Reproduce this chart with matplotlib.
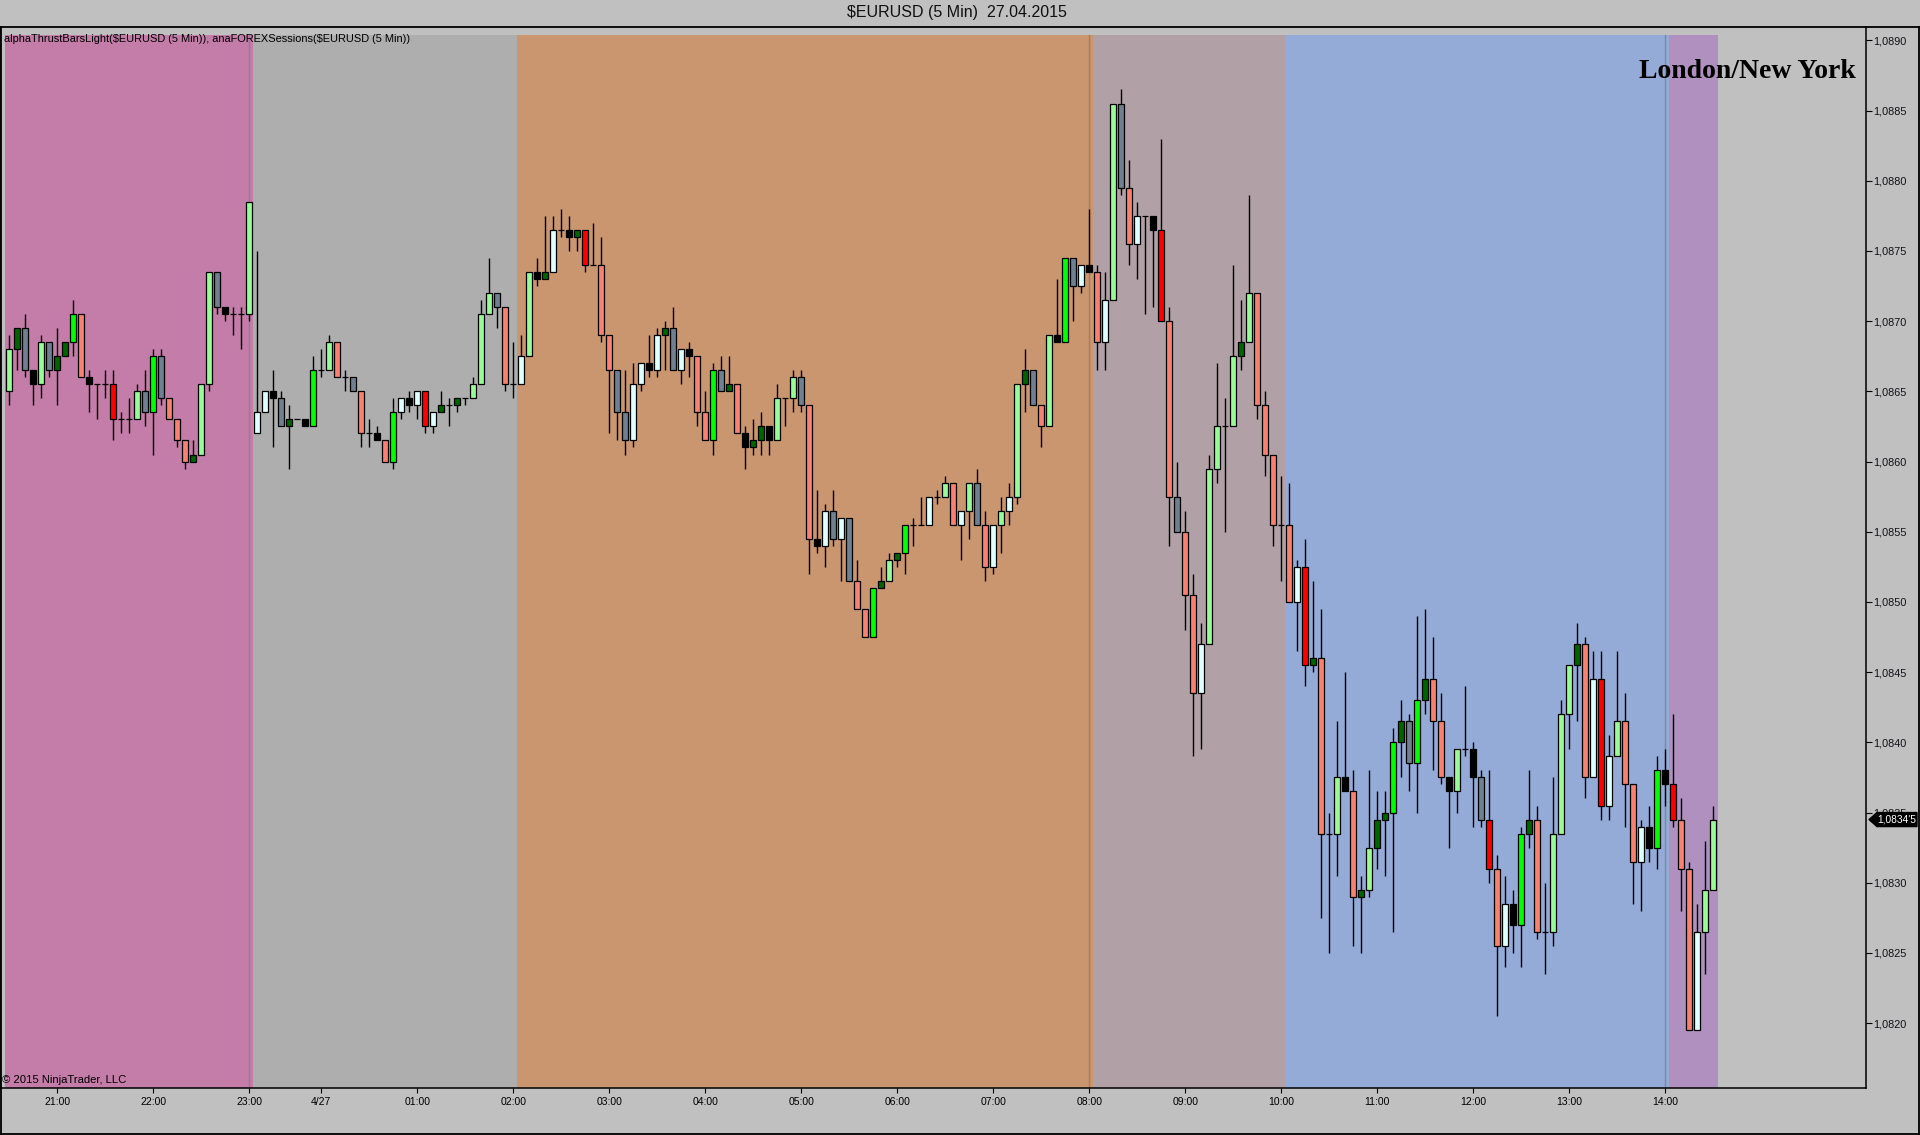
import numpy as np
import matplotlib
matplotlib.use("Agg")
import matplotlib.pyplot as plt
import matplotlib.patches as mpatches
import matplotlib.transforms as mtransforms
from matplotlib.lines import Line2D

# 5 min EURUSD bars, 20:30 (26.04) .. 14:30 (27.04)
opens = [
 1.08650, 1.08680, 1.08695, 1.08665, 1.08655, 1.08685, 1.08665, 1.08675, 1.08685, 1.08705,
 1.08660, 1.08655, 1.08655, 1.08655, 1.08630, 1.08630, 1.08630, 1.08650, 1.08635, 1.08675,
 1.08645, 1.08630, 1.08615, 1.08600, 1.08605, 1.08655, 1.08735, 1.08710, 1.08705, 1.08705,
 1.08705, 1.08620, 1.08635, 1.08650, 1.08645, 1.08625, 1.08630, 1.08630, 1.08625, 1.08665,
 1.08665, 1.08685, 1.08660, 1.08660, 1.08650, 1.08620, 1.08620, 1.08615, 1.08600, 1.08635,
 1.08645, 1.08640, 1.08650, 1.08625, 1.08635, 1.08640, 1.08640, 1.08645, 1.08645, 1.08655,
 1.08705, 1.08720, 1.08710, 1.08655, 1.08655, 1.08675, 1.08735, 1.08730, 1.08735, 1.08765,
 1.08765, 1.08760, 1.08765, 1.08740, 1.08740, 1.08690, 1.08665, 1.08635, 1.08615, 1.08655,
 1.08670, 1.08665, 1.08690, 1.08695, 1.08665, 1.08680, 1.08675, 1.08635, 1.08615, 1.08665,
 1.08650, 1.08655, 1.08620, 1.08610, 1.08615, 1.08625, 1.08615, 1.08645, 1.08645, 1.08660,
 1.08640, 1.08545, 1.08540, 1.08565, 1.08545, 1.08560, 1.08515, 1.08495, 1.08475, 1.08510,
 1.08515, 1.08530, 1.08535, 1.08555, 1.08555, 1.08555, 1.08575, 1.08575, 1.08585, 1.08555,
 1.08565, 1.08585, 1.08555, 1.08525, 1.08555, 1.08565, 1.08575, 1.08655, 1.08665, 1.08640,
 1.08625, 1.08690, 1.08685, 1.08745, 1.08725, 1.08740, 1.08735, 1.08685, 1.08715, 1.08855,
 1.08795, 1.08755, 1.08775, 1.08775, 1.08765, 1.08700, 1.08575, 1.08550, 1.08505, 1.08435,
 1.08470, 1.08595, 1.08625, 1.08625, 1.08675, 1.08685, 1.08720, 1.08640, 1.08605, 1.08555,
 1.08555, 1.08500, 1.08525, 1.08455, 1.08460, 1.08335, 1.08335, 1.08375, 1.08365, 1.08290,
 1.08295, 1.08325, 1.08345, 1.08350, 1.08400, 1.08415, 1.08385, 1.08430, 1.08445, 1.08415,
 1.08375, 1.08365, 1.08395, 1.08395, 1.08375, 1.08345, 1.08310, 1.08255, 1.08285, 1.08270,
 1.08335, 1.08345, 1.08265, 1.08265, 1.08335, 1.08420, 1.08455, 1.08470, 1.08375, 1.08445,
 1.08355, 1.08390, 1.08415, 1.08370, 1.08315, 1.08340, 1.08325, 1.08380, 1.08370, 1.08345,
 1.08310, 1.08195, 1.08265, 1.08295]
highs = [
 1.08690, 1.08695, 1.08705, 1.08665, 1.08690, 1.08685, 1.08695, 1.08685, 1.08715, 1.08705,
 1.08665, 1.08655, 1.08665, 1.08665, 1.08635, 1.08645, 1.08655, 1.08665, 1.08680, 1.08680,
 1.08645, 1.08630, 1.08615, 1.08615, 1.08655, 1.08735, 1.08735, 1.08710, 1.08710, 1.08710,
 1.08785, 1.08750, 1.08650, 1.08665, 1.08650, 1.08640, 1.08630, 1.08630, 1.08675, 1.08680,
 1.08690, 1.08685, 1.08665, 1.08660, 1.08650, 1.08630, 1.08625, 1.08615, 1.08645, 1.08645,
 1.08650, 1.08650, 1.08650, 1.08635, 1.08650, 1.08645, 1.08645, 1.08645, 1.08660, 1.08715,
 1.08745, 1.08720, 1.08710, 1.08685, 1.08690, 1.08735, 1.08745, 1.08775, 1.08775, 1.08780,
 1.08775, 1.08765, 1.08765, 1.08770, 1.08760, 1.08690, 1.08665, 1.08665, 1.08670, 1.08670,
 1.08690, 1.08695, 1.08700, 1.08710, 1.08680, 1.08685, 1.08675, 1.08650, 1.08670, 1.08675,
 1.08675, 1.08655, 1.08625, 1.08630, 1.08635, 1.08625, 1.08655, 1.08645, 1.08665, 1.08665,
 1.08640, 1.08580, 1.08570, 1.08580, 1.08560, 1.08560, 1.08530, 1.08495, 1.08510, 1.08525,
 1.08535, 1.08535, 1.08555, 1.08560, 1.08575, 1.08575, 1.08580, 1.08590, 1.08585, 1.08565,
 1.08585, 1.08595, 1.08565, 1.08555, 1.08575, 1.08585, 1.08655, 1.08680, 1.08665, 1.08640,
 1.08690, 1.08730, 1.08745, 1.08745, 1.08740, 1.08780, 1.08740, 1.08735, 1.08855, 1.08865,
 1.08815, 1.08785, 1.08775, 1.08775, 1.08830, 1.08710, 1.08600, 1.08565, 1.08520, 1.08485,
 1.08605, 1.08670, 1.08645, 1.08740, 1.08715, 1.08790, 1.08720, 1.08650, 1.08605, 1.08590,
 1.08585, 1.08530, 1.08545, 1.08515, 1.08495, 1.08350, 1.08415, 1.08450, 1.08380, 1.08305,
 1.08380, 1.08365, 1.08365, 1.08410, 1.08430, 1.08420, 1.08490, 1.08495, 1.08475, 1.08435,
 1.08375, 1.08395, 1.08440, 1.08400, 1.08380, 1.08380, 1.08320, 1.08305, 1.08295, 1.08340,
 1.08380, 1.08355, 1.08300, 1.08375, 1.08430, 1.08455, 1.08485, 1.08475, 1.08465, 1.08465,
 1.08405, 1.08465, 1.08435, 1.08370, 1.08345, 1.08355, 1.08390, 1.08395, 1.08420, 1.08360,
 1.08315, 1.08285, 1.08330, 1.08355]
lows = [
 1.08640, 1.08665, 1.08660, 1.08640, 1.08645, 1.08660, 1.08640, 1.08675, 1.08675, 1.08660,
 1.08635, 1.08630, 1.08645, 1.08615, 1.08620, 1.08620, 1.08630, 1.08625, 1.08605, 1.08640,
 1.08630, 1.08610, 1.08595, 1.08600, 1.08605, 1.08650, 1.08705, 1.08700, 1.08690, 1.08680,
 1.08700, 1.08620, 1.08635, 1.08610, 1.08625, 1.08595, 1.08630, 1.08625, 1.08625, 1.08660,
 1.08665, 1.08660, 1.08650, 1.08650, 1.08610, 1.08610, 1.08615, 1.08600, 1.08595, 1.08630,
 1.08635, 1.08630, 1.08620, 1.08620, 1.08635, 1.08625, 1.08635, 1.08640, 1.08645, 1.08655,
 1.08705, 1.08695, 1.08650, 1.08645, 1.08655, 1.08675, 1.08725, 1.08730, 1.08735, 1.08760,
 1.08750, 1.08750, 1.08735, 1.08740, 1.08685, 1.08620, 1.08615, 1.08605, 1.08610, 1.08650,
 1.08660, 1.08660, 1.08665, 1.08665, 1.08655, 1.08660, 1.08625, 1.08615, 1.08605, 1.08650,
 1.08650, 1.08620, 1.08595, 1.08605, 1.08605, 1.08605, 1.08615, 1.08625, 1.08635, 1.08635,
 1.08520, 1.08535, 1.08525, 1.08540, 1.08515, 1.08515, 1.08495, 1.08475, 1.08475, 1.08510,
 1.08515, 1.08525, 1.08520, 1.08540, 1.08555, 1.08555, 1.08570, 1.08575, 1.08555, 1.08530,
 1.08545, 1.08555, 1.08515, 1.08520, 1.08535, 1.08555, 1.08570, 1.08635, 1.08640, 1.08610,
 1.08625, 1.08685, 1.08685, 1.08700, 1.08720, 1.08735, 1.08665, 1.08665, 1.08715, 1.08790,
 1.08740, 1.08730, 1.08705, 1.08710, 1.08700, 1.08540, 1.08550, 1.08480, 1.08390, 1.08395,
 1.08470, 1.08585, 1.08550, 1.08625, 1.08665, 1.08685, 1.08630, 1.08590, 1.08540, 1.08515,
 1.08500, 1.08465, 1.08440, 1.08450, 1.08275, 1.08250, 1.08305, 1.08365, 1.08255, 1.08250,
 1.08290, 1.08310, 1.08305, 1.08265, 1.08375, 1.08365, 1.08350, 1.08420, 1.08380, 1.08370,
 1.08325, 1.08350, 1.08390, 1.08340, 1.08340, 1.08300, 1.08205, 1.08240, 1.08250, 1.08240,
 1.08325, 1.08260, 1.08235, 1.08255, 1.08335, 1.08395, 1.08415, 1.08360, 1.08375, 1.08345,
 1.08345, 1.08390, 1.08340, 1.08285, 1.08280, 1.08315, 1.08310, 1.08355, 1.08340, 1.08280,
 1.08195, 1.08195, 1.08235, 1.08295]
closes = [
 1.08680, 1.08695, 1.08665, 1.08655, 1.08685, 1.08665, 1.08675, 1.08685, 1.08705, 1.08660,
 1.08655, 1.08655, 1.08655, 1.08630, 1.08630, 1.08630, 1.08650, 1.08635, 1.08675, 1.08645,
 1.08630, 1.08615, 1.08600, 1.08605, 1.08655, 1.08735, 1.08710, 1.08705, 1.08705, 1.08705,
 1.08785, 1.08635, 1.08650, 1.08645, 1.08625, 1.08630, 1.08630, 1.08625, 1.08665, 1.08665,
 1.08685, 1.08660, 1.08660, 1.08650, 1.08620, 1.08620, 1.08615, 1.08600, 1.08635, 1.08645,
 1.08640, 1.08650, 1.08625, 1.08635, 1.08640, 1.08640, 1.08645, 1.08645, 1.08655, 1.08705,
 1.08720, 1.08710, 1.08655, 1.08655, 1.08675, 1.08735, 1.08730, 1.08735, 1.08765, 1.08765,
 1.08760, 1.08765, 1.08740, 1.08740, 1.08690, 1.08665, 1.08635, 1.08615, 1.08655, 1.08670,
 1.08665, 1.08690, 1.08695, 1.08665, 1.08680, 1.08675, 1.08635, 1.08615, 1.08665, 1.08650,
 1.08655, 1.08620, 1.08610, 1.08615, 1.08625, 1.08615, 1.08645, 1.08645, 1.08660, 1.08640,
 1.08545, 1.08540, 1.08565, 1.08545, 1.08560, 1.08515, 1.08495, 1.08475, 1.08510, 1.08515,
 1.08530, 1.08535, 1.08555, 1.08555, 1.08555, 1.08575, 1.08575, 1.08585, 1.08555, 1.08565,
 1.08585, 1.08555, 1.08525, 1.08555, 1.08565, 1.08575, 1.08655, 1.08665, 1.08640, 1.08625,
 1.08690, 1.08685, 1.08745, 1.08725, 1.08740, 1.08735, 1.08685, 1.08715, 1.08855, 1.08795,
 1.08755, 1.08775, 1.08775, 1.08765, 1.08700, 1.08575, 1.08550, 1.08505, 1.08435, 1.08470,
 1.08595, 1.08625, 1.08625, 1.08675, 1.08685, 1.08720, 1.08640, 1.08605, 1.08555, 1.08555,
 1.08500, 1.08525, 1.08455, 1.08460, 1.08335, 1.08335, 1.08375, 1.08365, 1.08290, 1.08295,
 1.08325, 1.08345, 1.08350, 1.08400, 1.08415, 1.08385, 1.08430, 1.08445, 1.08415, 1.08375,
 1.08365, 1.08395, 1.08395, 1.08375, 1.08345, 1.08310, 1.08255, 1.08285, 1.08270, 1.08335,
 1.08345, 1.08265, 1.08265, 1.08335, 1.08420, 1.08455, 1.08470, 1.08375, 1.08445, 1.08355,
 1.08390, 1.08415, 1.08370, 1.08315, 1.08340, 1.08325, 1.08380, 1.08370, 1.08345, 1.08310,
 1.08195, 1.08265, 1.08295, 1.08345]
# alphaThrustBars state per bar
thrust = list("GDSKGSDDLA" "KKKRKKGSLS" "AAADGGSKKK" "GCCKSDKKLK" "GAKSAKKALC"
              "KCRCDKDKGG" "GSAKCGKDCK" "KDRKAASSCC" "KCDSCKAALS" "DAKDDKGKGS"
              "AKCSCSAALD" "GDLKKCKGAC" "GSACGCGDSA" "GKLSCKACGS" "ACKKRASAAC"
              "GGKGDGAAAK" "ACRDAKGKAD" "GDDLDSLDAA" "KGKKSRACKL" "DAKGGGDACR"
              "CGAACKLKRA" "ACGG")

# sessions: first bar index of each session
session_start = [0, 31, 64, 136, 160, 208]
session_end = 214
session_open_bars = [30, 135, 207]

tick_bars = [6, 18, 30, 39, 51, 63, 75, 87, 99, 111, 123, 135, 147, 159, 171, 183, 195, 207]
tick_labels = ["21:00", "22:00", "23:00", "4/27", "01:00", "02:00", "03:00", "04:00", "05:00",
               "06:00", "07:00", "08:00", "09:00", "10:00", "11:00", "12:00", "13:00", "14:00"]
price_ticks = [1.0820, 1.0825, 1.0830, 1.0835, 1.0840, 1.0845, 1.0850, 1.0855,
               1.0860, 1.0865, 1.0870, 1.0875, 1.0880, 1.0885, 1.0890]

thrust_colors = {'G': '#98FB98', 'L': '#00FF00', 'D': '#006400', 'S': '#708090',
                 'K': '#000000', 'C': '#E0FFFF', 'A': '#FA8072', 'R': '#FF0000'}
session_colors = ['#C47CA8', '#AEAEAE', '#C99670', '#B1A1A6', '#94ABD7', '#AF90BE']
open_line_colors = ['#9A7A8E', '#B07A50', '#7E8898']
bg = '#C0C0C0'
font = 'Liberation Sans'

W, H = 1920, 1135
fig = plt.figure(figsize=(W/100, H/100), dpi=100, facecolor=bg)
ax = fig.add_axes([0, 1-1088/H, 1866/W, (1088-27)/H])
ax.set_facecolor(bg)
ax.set_xlim(-1.1625, 232.09)
ax.set_ylim(1.081538, 1.089095)

# session backgrounds
edges = [s - 0.57 for s in session_start] + [session_end - 0.47]
for i, c in enumerate(session_colors):
    ax.axvspan(edges[i], edges[i+1], ymin=0, ymax=0.9925, color=c, lw=0, zorder=0)
for b, c in zip(session_open_bars, open_line_colors):
    ax.axvline(b, ymin=0, ymax=0.9925, color=c, lw=1.0, zorder=0.5)

# candles
x = np.arange(len(opens))
o = np.array(opens); h = np.array(highs); l = np.array(lows); c = np.array(closes)
ax.vlines(x, l, h, color='black', lw=1.0, zorder=2)
ax.bar(x, np.abs(c-o), bottom=np.minimum(o, c), width=0.78,
       color=[thrust_colors[t] for t in thrust], edgecolor='black', lw=0.9, zorder=3)

# axes styling
for s in ax.spines.values():
    s.set_linewidth(1.1)
ax.spines['top'].set_visible(False)
ax.yaxis.tick_right()
ax.set_yticks(price_ticks)
ax.set_yticklabels([("%.4f" % v).replace('.', ',') for v in price_ticks],
                   family=font, fontsize=7.8, color='#101018')
ax.tick_params(axis='y', direction='out', length=4.5, width=0.8, pad=1)
ax.set_xticks(tick_bars)
ax.set_xticklabels(tick_labels, family=font, fontsize=7.5)
ax.tick_params(axis='x', direction='out', length=3.8, width=0.8, pad=2.5)

ax.text(0.0019, 0.9887, r"alphaThrustBarsLight(\$EURUSD (5 Min)), anaFOREXSessions(\$EURUSD (5 Min))",
        transform=ax.transAxes, ha='left', va='center', family=font, fontsize=7.9)
ax.text(0.001, 0.003, "\u00a9 2015 NinjaTrader, LLC", transform=ax.transAxes,
        ha='left', va='bottom', family=font, fontsize=8.1)
ax.text(0.9946, 0.9578, "London/New York", transform=ax.transAxes, ha='right', va='center',
        family='Liberation Serif', fontweight='bold', fontsize=20)

# last price marker
tr = mtransforms.blended_transform_factory(fig.transFigure, ax.transData)
last = closes[-1]
hh = 0.00005
marker = mpatches.Polygon([(1869/W, last), (1877/W, last+hh), (1917/W, last+hh),
                           (1917/W, last-hh), (1877/W, last-hh)], closed=True,
                          transform=tr, facecolor='black', edgecolor='black', clip_on=False, zorder=5)
fig.add_artist(marker)
fig.text(1897/W, last, ("%.5f" % last).replace('.', ',')[:-1] + "'" + ("%.5f" % last)[-1],
         transform=tr, ha='center', va='center', color='white', family=font, fontsize=7.3, zorder=6)

# title and frame
fig.text(957/W, 1-12/H, "$EURUSD (5 Min)  27.04.2015", ha='center', va='center',
         family=font, fontsize=11.5, color='#101010')
fr = dict(color='black', lw=1.3, transform=fig.transFigure)
fig.add_artist(Line2D([0, 1], [1-27/H, 1-27/H], **fr))
fig.add_artist(Line2D([0.5/W, 0.5/W], [0, 1-27/H], **fr))
fig.add_artist(Line2D([1-1/W, 1-1/W], [0, 1-27/H], **fr))
fig.add_artist(Line2D([0, 1], [1/H, 1/H], **fr))

fig.savefig("out.png", dpi=100, facecolor=bg)
